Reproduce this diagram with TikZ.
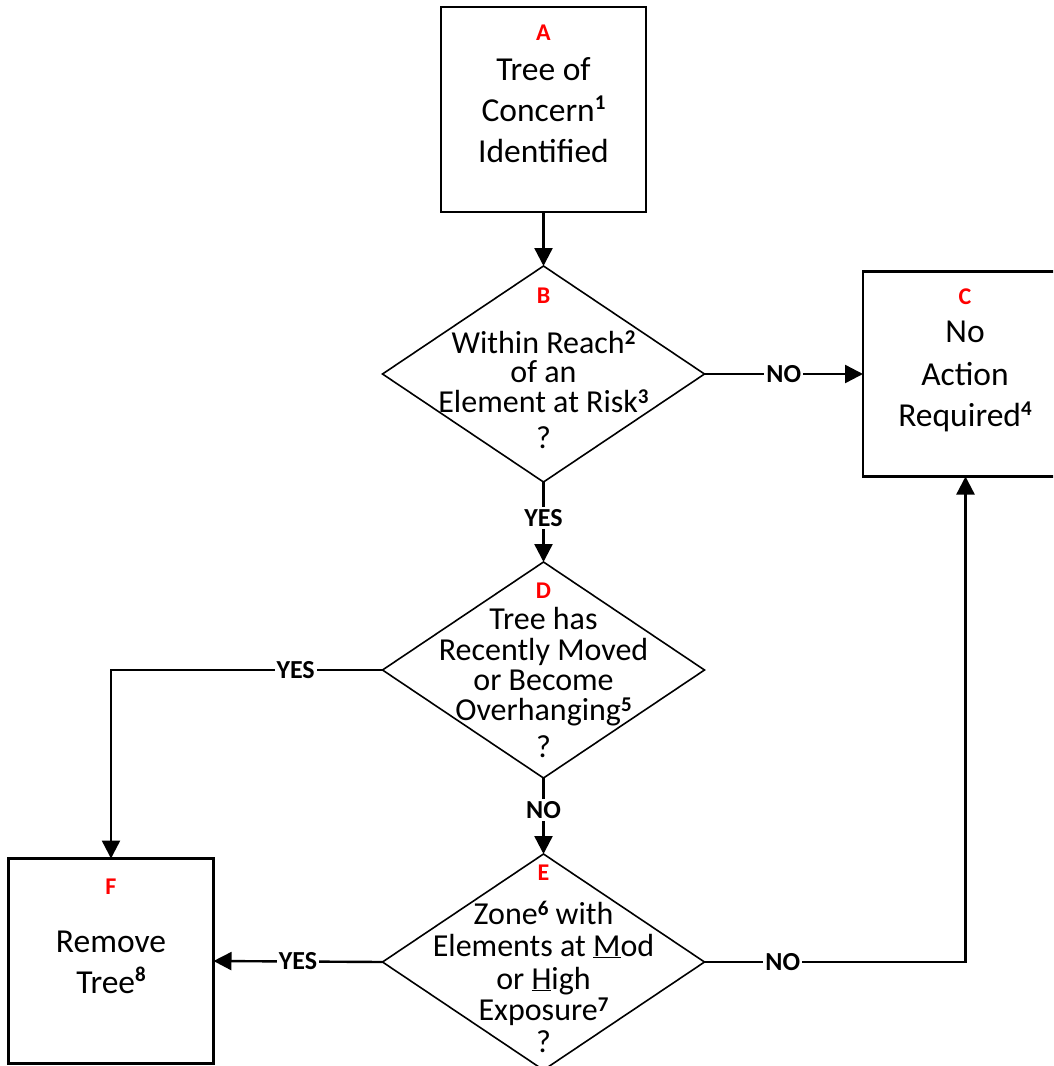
\documentclass[tikz,border=0pt]{standalone}
\usepackage{fontspec}
\setmainfont{Carlito}
\usetikzlibrary{shapes.geometric,arrows.meta}
\newcommand\mysup[3]{\raisebox{#2pt}{\fontsize{#1}{#1}\selectfont\bfseries #3}}
\begin{document}
\begin{tikzpicture}[x=1pt,y=-1pt,
  box/.style={draw, line width=2.2pt, minimum width=205pt, minimum height=205pt, inner sep=0pt, outer sep=0pt},
  dec/.style={diamond, draw, line width=1.6pt, minimum width=322pt, minimum height=216pt, inner sep=0pt, outer sep=0pt},
  tag/.style={anchor=base, inner sep=0pt, text=red, font=\fontsize{24}{24}\selectfont\bfseries},
  btxt/.style={anchor=base, inner sep=0pt, font=\fontsize{33.5}{33.5}\selectfont},
  dtxt/.style={anchor=base, inner sep=0pt, font=\fontsize{32}{32}\selectfont},
  arr/.style={line width=2.4pt, -{Triangle[length=18pt,width=18pt]}},
  yn/.style={fill=white, inner sep=2pt, font=\fontsize{26}{26}\selectfont\bfseries}]
\clip (0,0) rectangle (1053,1066);
% shapes
\node[box] (A) at (543.5,109.5) {};
\node[dec] (B) at (543.5,374) {};
\node[box] (C) at (965.5,374) {};
\node[dec] (D) at (543.5,670) {};
\node[dec] (E) at (543.5,962) {};
\node[box] (F) at (111,961) {};
% texts A
\node[tag]  (Aid) at (543.5,40) {A};
\node[btxt] (A1) at (543.5,80) {Tree of};
\node[btxt] (A2) at (543.5,121) {Concern\mysup{21}{12}{1}};
\node[btxt] (A3) at (543.5,162) {Identified};
% texts B
\node[tag]  (Bid) at (543.5,303) {B};
\node[dtxt] (B1) at (543.5,353) {Within Reach\mysup{21}{9}{2}};
\node[dtxt] (B2) at (543.5,382) {of an};
\node[dtxt] (B3) at (543.5,412) {Element at Risk\mysup{21}{9}{3}};
\node[dtxt] (B4) at (543.5,448) {?};
% texts C
\node[tag]  (Cid) at (965,304) {C};
\node[btxt] (C1) at (965,342) {No};
\node[btxt] (C2) at (965,385) {Action};
\node[btxt] (C3) at (965,426) {Required\mysup{21}{11}{4}};
% texts D
\node[tag]  (Did) at (543.5,598) {D};
\node[dtxt] (D1) at (543.5,629) {Tree has};
\node[dtxt] (D2) at (543.5,660) {Recently Moved};
\node[dtxt] (D3) at (543.5,690) {or Become};
\node[dtxt] (D4) at (543.5,720) {Overhanging\mysup{21}{9}{5}};
\node[dtxt] (D5) at (543.5,757) {?};
% texts E
\node[tag]  (Eid) at (543.5,880) {E};
\node[dtxt] (E1) at (543.5,924) {Zone\mysup{21}{9}{6} with};
\node[dtxt] (E2) at (543.5,956) {Elements at \underline{M}od};
\node[dtxt] (E3) at (543.5,989) {or \underline{H}igh};
\node[dtxt] (E4) at (543.5,1020) {Exposure\mysup{21}{9}{7}};
\node[dtxt] (E5) at (543.5,1052) {?};
% texts F
\node[tag]  (Fid) at (111,894) {F};
\node[btxt] (F1) at (111,952) {Remove};
\node[btxt] (F2) at (111,993) {Tree\mysup{21}{12}{8}};
% connectors
\draw[arr] (A) -- (B);
\draw[arr] (B.east) -- node[yn] (lBC) {NO} (C.west);
\draw[arr] (B.south) -- node[yn, pos=0.45] (lBD) {YES} (D.north);
\draw[arr] (D.west) -| node[yn, pos=0.16] (lDF) {YES} (F.north);
\draw[arr] (D.south) -- node[yn, pos=0.42] (lDE) {NO} (E.north);
\draw[arr] (E.west) -- node[yn] (lEF) {YES} (F.east);
\draw[arr] (E.east) -| node[yn, pos=0.15] (lEC) {NO} (C.south);
\end{tikzpicture}
\end{document}
